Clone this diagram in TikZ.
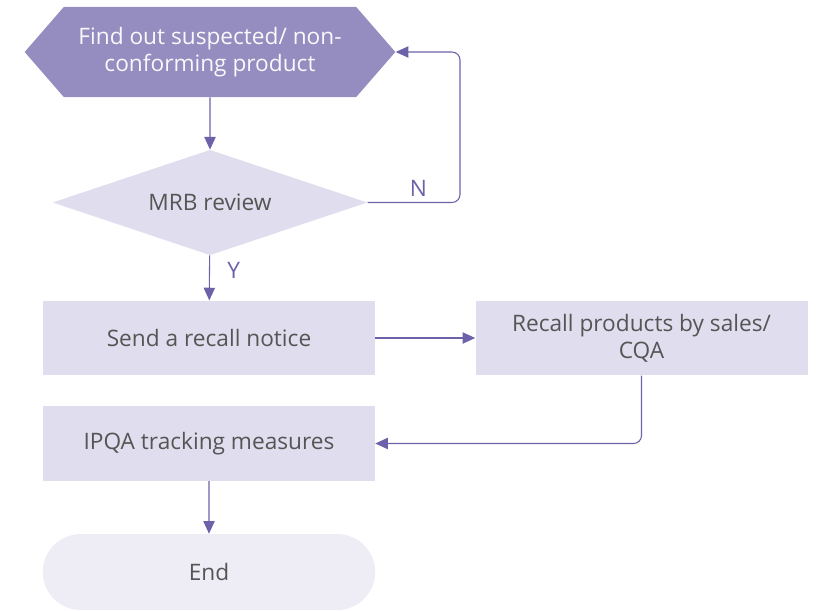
\documentclass[tikz,border=0pt]{standalone}
\usepackage{fontspec}
\setmainfont{Open Sans}
\usetikzlibrary{arrows.meta,shapes.geometric,shapes.symbols,shapes.misc}
\definecolor{hexfill}{HTML}{958CBF}
\definecolor{boxfill}{HTML}{E0DEEE}
\definecolor{endfill}{HTML}{EEEDF6}
\definecolor{linecol}{HTML}{6C62AA}
\definecolor{txtcol}{HTML}{555555}
\tikzset{
  box/.style={rectangle, fill=boxfill, text=txtcol, minimum width=249pt, minimum height=56pt, align=center, inner sep=2pt},
  arr/.style={draw=linecol, line width=0.8pt, -{Triangle[length=9.5pt,width=8.5pt]}},
}

\begin{document}
\begin{tikzpicture}[x=0.75pt,y=-0.75pt,font=\fontsize{17}{20.5}\selectfont]
        \useasboundingbox (0,0) rectangle (823,610);
        \node (Find) [signal, signal to=west and east, signal pointer angle=98, fill=hexfill, text=white!94!hexfill, minimum width=278pt, minimum height=67.5pt, inner sep=0pt, align=center] at (210, 52) {\raisebox{-3pt}{\shortstack{Find out suspected/ non-\\conforming product}}};
        \node (Rev) [diamond, aspect=3, fill=boxfill, text=txtcol, minimum width=236pt, minimum height=79pt, inner sep=0pt] at (210, 202.5) {MRB review};
        \node (Send) [box] at (209, 338) {Send a recall notice};
        \node (Recall) [box] at (641.5, 338) {Recall products by sales/\\CQA};
        \node (Track) [box] at (209, 443.5) {IPQA tracking measures};
        \node (End) [rounded rectangle, fill=endfill, text=txtcol, minimum width=256pt, minimum height=57pt] at (209, 572) {End};
        \coordinate (NR) at (460, 0);
        \draw [arr] (Find) -- (Rev);
        \draw [arr, rounded corners=6pt] (Rev.east) -- node [above, pos=0.55, text=linecol, inner sep=4pt] {N} (Rev.east -| NR) |- (Find.east);
        \draw [arr] (Rev) -- node [right, text=linecol, pos=0.33, inner sep=13pt] {Y} (Send);
        \draw [arr] (Send) -- (Recall);
        \draw [arr, rounded corners=6pt] (Recall.south) |- (Track.east);
        \draw [arr] (Track) -- (End);
\end{tikzpicture}
\end{document}
